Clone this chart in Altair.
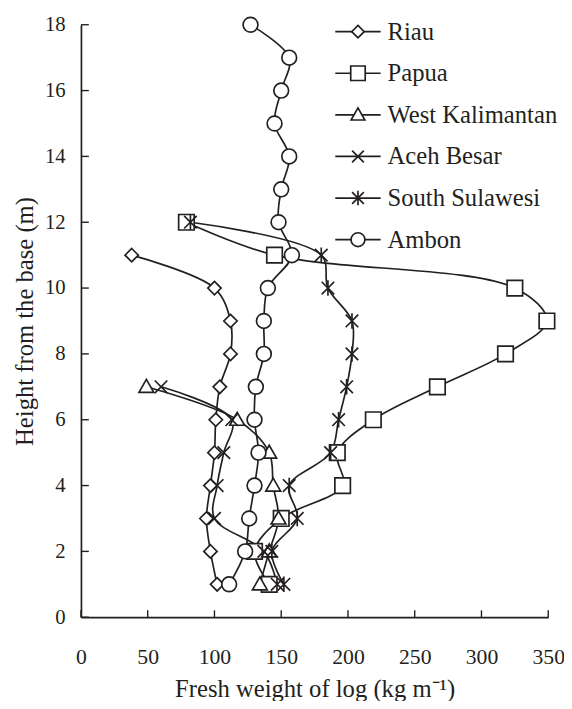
import altair as alt
import pandas as pd

# ---------------- data ----------------
regions = ["Riau", "Papua", "West Kalimantan", "Aceh Besar", "South Sulawesi", "Ambon"]

riau_height = [1, 2, 3, 4, 5, 6, 7, 8, 9, 10, 11]
riau_weight = [102, 97, 94, 97, 100, 101, 104, 112, 112, 100, 38]

papua_height = [1, 2, 3, 4, 5, 6, 7, 8, 9, 10, 11, 12]
papua_weight = [141, 130, 150, 196, 192, 219, 267, 318, 349, 325, 145, 79]

wk_height = [1, 2, 3, 4, 5, 6, 7]
wk_weight = [134, 141, 148, 144, 141, 117, 49]

aceh_height = [1, 2, 3, 4, 5, 6, 7]
aceh_weight = [147, 137, 100, 102, 107, 113, 60]

ss_height = [1, 2, 3, 4, 5, 6, 7, 8, 9, 10, 11, 12]
ss_weight = [152, 143, 162, 156, 187, 193, 199, 203, 203, 185, 180, 82]

ambon_height = [1, 2, 3, 4, 5, 6, 7, 8, 9, 10, 11, 12, 13, 14, 15, 16, 17, 18]
ambon_weight = [111, 123, 126, 130, 133, 130, 131, 137, 137, 140, 158, 148, 150, 156, 145, 150, 156, 127]

x_ticks = [0, 50, 100, 150, 200, 250, 300, 350]
y_ticks = [0, 2, 4, 6, 8, 10, 12, 14, 16, 18]

series = [
    ("Riau", riau_height, riau_weight),
    ("Papua", papua_height, papua_weight),
    ("West Kalimantan", wk_height, wk_weight),
    ("Aceh Besar", aceh_height, aceh_weight),
    ("South Sulawesi", ss_height, ss_weight),
    ("Ambon", ambon_height, ambon_weight),
]
rows = []
for name, hs, ws in series:
    for h, w in zip(hs, ws):
        rows.append({"region": name, "height": h, "weight": w})
df = pd.DataFrame(rows)
legend_df = pd.DataFrame({"region": regions})

# ---------------- styling ----------------
W, H = 474, 601
FONT = "Liberation Serif"
INK = "#231f20"
LW = 1.7

marker_paths = [
    "M0,-0.9L0.9,0L0,0.9L-0.9,0Z",                       # diamond
    "M-1.05,-1.05L1.05,-1.05L1.05,1.05L-1.05,1.05Z",      # square
    "M0,-1L1,0.75L-1,0.75Z",                              # triangle
    "M-0.85,-0.85L0.85,0.85M-0.85,0.85L0.85,-0.85",       # x
    "M-0.85,-0.85L0.85,0.85M-0.85,0.85L0.85,-0.85M0,-1.05L0,1.05",  # asterisk
    "M-1,0A1,1,0,1,0,1,0A1,1,0,1,0,-1,0Z",                # circle
]
shape_scale = alt.Scale(domain=regions, range=marker_paths)

x_enc = alt.X("weight:Q", scale=alt.Scale(domain=[0, 350], nice=False),
              axis=alt.Axis(values=x_ticks, title="Fresh weight of log (kg m\u207b\u00b9)",
                            ticks=False, labelPadding=30, titlePadding=9, grid=False,
                            labelFlush=False, labelFontSize=22))
y_enc = alt.Y("height:Q", scale=alt.Scale(domain=[0, 18], nice=False),
              axis=alt.Axis(values=y_ticks, title="Height from the base  (m)",
                            ticks=False, labelPadding=16, titlePadding=7, grid=False,
                            labelFlush=False, labelFontSize=21))

lines = alt.Chart(df).mark_line(interpolate="catmull-rom", color=INK, strokeWidth=LW).encode(
    x=x_enc, y=y_enc, detail="region:N", order="height:Q")

points = alt.Chart(df).mark_point(filled=False, fill="white", stroke=INK, strokeWidth=LW,
                                  size=225, opacity=1).encode(
    x="weight:Q", y="height:Q",
    shape=alt.Shape("region:N", scale=shape_scale, legend=None))

xt = pd.DataFrame({"weight": x_ticks})
yt = pd.DataFrame({"height": y_ticks})
xtick_rules = alt.Chart(xt).mark_rule(color=INK, strokeWidth=1.4).encode(
    x="weight:Q", y=alt.value(H), y2=alt.value(H - 7))
ytick_rules = alt.Chart(yt).mark_rule(color=INK, strokeWidth=1.4).encode(
    y="height:Q", x=alt.value(0), x2=alt.value(8))

main = alt.layer(xtick_rules, ytick_rules, lines, points)

# ---------------- legend (line + marker + label) ----------------
leg_y = alt.Y("region:N", scale=alt.Scale(type="point", domain=regions, range=[7, 218], padding=0),
              axis=None)
leg_lines = alt.Chart(legend_df).mark_rule(color=INK, strokeWidth=LW).encode(
    y=leg_y, x=alt.value(258), x2=alt.value(304))
leg_marks = alt.Chart(legend_df).mark_point(filled=False, fill="white", stroke=INK, strokeWidth=LW,
                                            size=196, opacity=1).encode(
    y=leg_y, x=alt.value(281),
    shape=alt.Shape("region:N", scale=shape_scale, legend=None))
leg_text = alt.Chart(legend_df).mark_text(align="left", baseline="middle", font=FONT,
                                          fontSize=25, color=INK).encode(
    y=leg_y, x=alt.value(311), text="region:N")
legend = alt.layer(leg_lines, leg_marks, leg_text)

chart = alt.layer(main, legend).resolve_scale(y="independent").properties(
    width=W, height=H,
    autosize=alt.AutoSizeParams(type="none"),
    padding={"left": 74, "top": 12, "right": 16, "bottom": 80},
).configure_view(stroke=None).configure_axis(
    domainColor=INK, domainWidth=LW, labelFont=FONT, labelColor=INK,
    titleFont=FONT, titleFontSize=25, titleFontWeight="normal", titleColor=INK,
)

chart.save("out.html", embed_options={"renderer": "svg", "actions": False})
